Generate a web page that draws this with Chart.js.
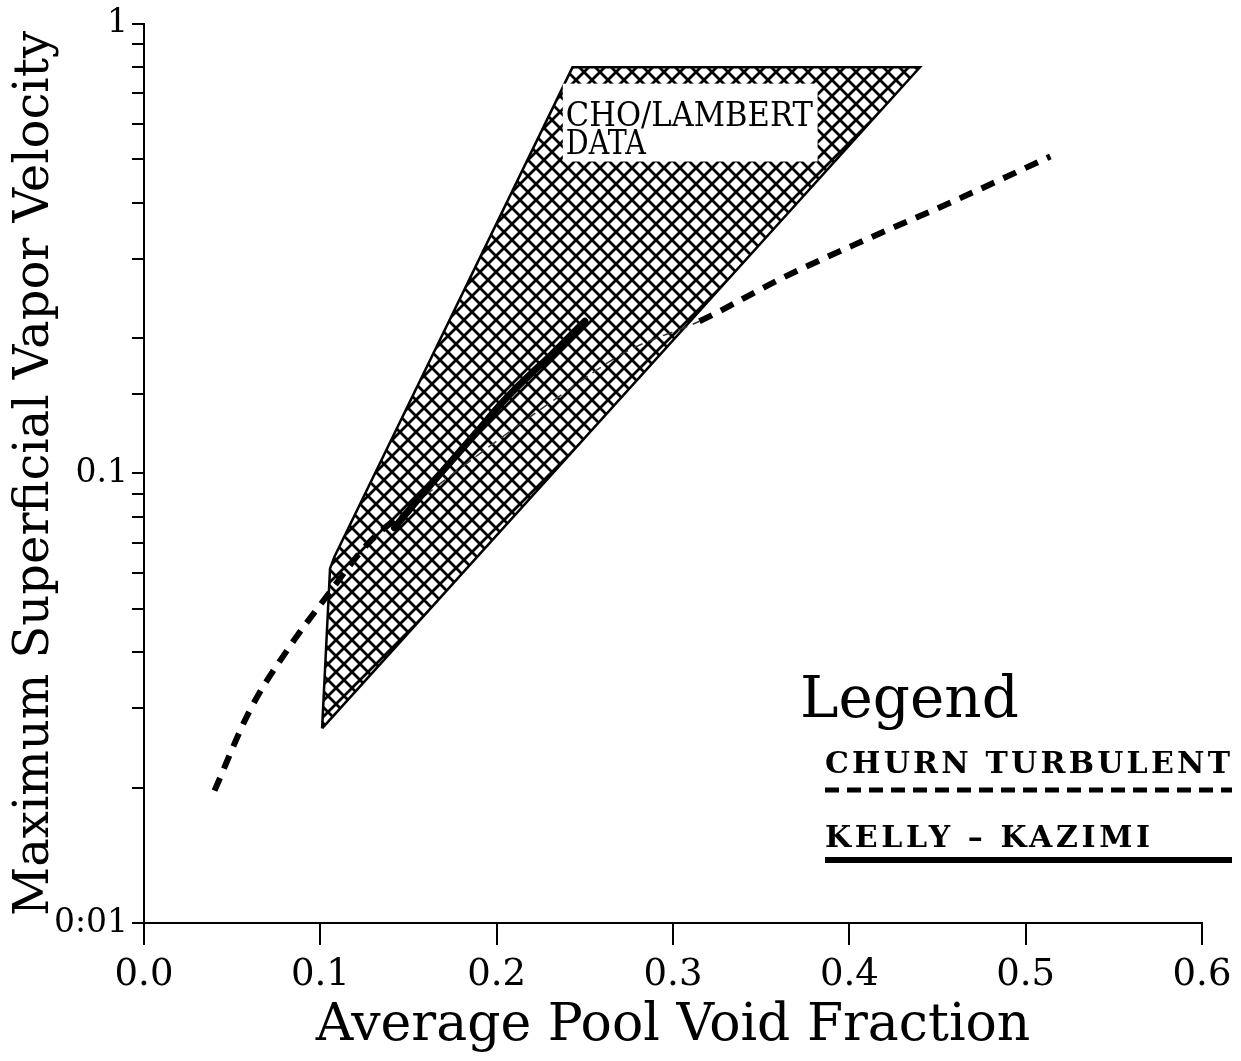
<!DOCTYPE html>
<html>
<head>
<meta charset="utf-8">
<title>Maximum Superficial Vapor Velocity vs Average Pool Void Fraction</title>
<script src="https://cdn.jsdelivr.net/npm/chart.js@4.4.1/dist/chart.umd.min.js"></script>
<style>
  html, body { margin: 0; padding: 0; background: #fff; }
  #chart { display: block; }
</style>
</head>
<body>
<canvas id="chart" width="1241" height="1061"></canvas>
<script>
// churn turbulent correlation (dashed curve)
const churnVoid = [0.040, 0.060, 0.083, 0.103, 0.127, 0.145, 0.170, 0.200, 0.234, 0.274, 0.315, 0.362, 0.410, 0.459, 0.514];
const churnVel  = [0.0197, 0.0297, 0.0414, 0.0529, 0.0698, 0.0805, 0.0962, 0.118, 0.147, 0.187, 0.218, 0.272, 0.332, 0.403, 0.507];
// where the dashed curve runs through the hatched data it is printed thin
const churnThinFrom = 0.145;
const churnThinTo = 0.315;

// Kelly - Kazimi (solid curve)
const kellyVoid = [0.142, 0.158, 0.172, 0.189, 0.204, 0.219, 0.230, 0.250];
const kellyVel  = [0.0757, 0.090, 0.104, 0.124, 0.145, 0.166, 0.182, 0.218];

// Cho/Lambert data envelope (hatched polygon, closed)
const choVoid = [0.101, 0.1055, 0.108, 0.243, 0.440, 0.101];
const choVel  = [0.0271, 0.0614, 0.0653, 0.80, 0.80, 0.0271];
// white label box cut out of the envelope: [void left, void right, vel top, vel bottom]
const choBox = [0.2375, 0.382, 0.736, 0.494];
const choLabel = ["CHO/LAMBERT", "DATA"];

// axes
const xTickLabels = ["0.0", "0.1", "0.2", "0.3", "0.4", "0.5", "0.6"];
const yTickValues = [0.01, 0.1, 1];
const yTickLabels = ["0:01", "0.1", "1"];

const legendTitle = "Legend";
const legendNames = ["CHURN TURBULENT", "KELLY \u2013 KAZIMI"];

const pts = (xs, ys) => xs.map((v, i) => ({ x: v, y: ys[i] }));

function makeHatch(ctx) {
  const s = 16;
  const c = document.createElement("canvas");
  c.width = s; c.height = s;
  const g = c.getContext("2d");
  g.fillStyle = "#fff";
  g.fillRect(0, 0, s, s);
  g.strokeStyle = "#000";
  g.lineWidth = 2.8;
  g.beginPath();
  for (let k = -1; k <= 1; k++) {
    g.moveTo(k * s, 0); g.lineTo(k * s + s, s);
    g.moveTo(k * s, s); g.lineTo(k * s + s, 0);
  }
  g.stroke();
  return ctx.createPattern(c, "repeat");
}

// make a line of text fill a given width: wider spacing if short, squeeze if long
function fitText(ctx, text, left, baseline, width) {
  ctx.save();
  ctx.letterSpacing = "0px";
  const w = ctx.measureText(text).width;
  ctx.translate(left, baseline);
  if (w > width) {
    ctx.scale(width / w, 1);
  } else if (text.length > 1) {
    ctx.letterSpacing = ((width - w) / (text.length - 1)) + "px";
  }
  ctx.fillText(text, 0, 0);
  ctx.restore();
}

const labels = {
  id: "labels",
  afterDatasetsDraw(chart) {
    const { ctx, scales: { x, y } } = chart;
    ctx.save();

    // label box inside the hatched area
    const bx0 = x.getPixelForValue(choBox[0]);
    const bx1 = x.getPixelForValue(choBox[1]);
    const by0 = y.getPixelForValue(choBox[2]);
    const by1 = y.getPixelForValue(choBox[3]);
    ctx.fillStyle = "#fff";
    ctx.fillRect(bx0, by0, bx1 - bx0, by1 - by0);
    ctx.fillStyle = "#000";
    ctx.textBaseline = "alphabetic";
    ctx.textAlign = "left";
    ctx.font = "34px 'DejaVu Serif'";
    fitText(ctx, choLabel[0], bx0 + 3, by0 + 42, 247);
    fitText(ctx, choLabel[1], bx0 + 3, by0 + 70, 80);

    // legend
    ctx.font = "58px 'DejaVu Serif'";
    ctx.fillText(legendTitle, 800, 717);
    ctx.font = "bold 30px 'DejaVu Serif'";
    fitText(ctx, legendNames[0], 825, 773, 405);
    fitText(ctx, legendNames[1], 825, 847, 325);

    ctx.strokeStyle = "#000";
    ctx.lineWidth = 5;
    ctx.setLineDash([14, 8]);
    ctx.beginPath();
    ctx.moveTo(825, 790); ctx.lineTo(1232, 790);
    ctx.stroke();
    ctx.setLineDash([]);
    ctx.lineWidth = 6;
    ctx.beginPath();
    ctx.moveTo(825, 860); ctx.lineTo(1232, 860);
    ctx.stroke();
    ctx.restore();
  }
};

const canvas = document.getElementById("chart");
const ctx = canvas.getContext("2d");
Chart.defaults.font.family = "'DejaVu Serif'";
Chart.defaults.color = "#000";

const isThin = (c) => c.p0.parsed.x >= churnThinFrom - 1e-9 && c.p1.parsed.x <= churnThinTo + 1e-9;

new Chart(ctx, {
  type: "line",
  data: {
    datasets: [
      {
        label: "Cho/Lambert data",
        data: pts(choVoid, choVel),
        borderColor: "#000",
        borderWidth: 2.5,
        backgroundColor: makeHatch(ctx),
        fill: "shape",
        pointRadius: 0,
        tension: 0,
        order: 3
      },
      {
        label: "Churn turbulent",
        data: pts(churnVoid, churnVel),
        borderColor: "#000",
        borderWidth: 6,
        borderDash: [14, 10],
        borderCapStyle: "butt",
        pointRadius: 0,
        cubicInterpolationMode: "monotone",
        fill: false,
        order: 1,
        segment: {
          borderWidth: (c) => (isThin(c) ? 1.5 : 6),
          borderDash: (c) => (isThin(c) ? [10, 6] : [14, 10]),
          borderColor: (c) => (isThin(c) ? "#333" : "#000")
        }
      },
      {
        label: "Kelly - Kazimi",
        data: pts(kellyVoid, kellyVel),
        borderColor: "#000",
        borderWidth: 7,
        borderCapStyle: "round",
        borderJoinStyle: "round",
        pointRadius: 0,
        tension: 0.4,
        fill: false,
        order: 0
      }
    ]
  },
  options: {
    responsive: false,
    animation: false,
    layout: { padding: { top: 22, right: 39, left: 0, bottom: 0 } },
    plugins: {
      legend: { display: false },
      tooltip: { enabled: false }
    },
    scales: {
      x: {
        type: "linear",
        min: 0,
        max: 0.6,
        ticks: {
          stepSize: 0.1,
          padding: 8,
          font: { size: 37 },
          callback: (v) => xTickLabels[Math.round(v * 10)]
        },
        grid: { drawOnChartArea: false, drawTicks: true, tickLength: 22, color: "#000", lineWidth: 2 },
        border: { display: true, color: "#000", width: 2 },
        title: {
          display: true,
          text: "Average Pool Void Fraction",
          font: { size: 52 },
          padding: { top: 0, bottom: 3 }
        },
        afterFit: (s) => { s.height = 138; }
      },
      y: {
        type: "logarithmic",
        min: 0.01,
        max: 1,
        ticks: {
          autoSkip: false,
          padding: 4,
          font: { size: 33 },
          callback: (v) => {
            const i = yTickValues.findIndex((t) => Math.abs(v - t) < t * 1e-6);
            return i >= 0 ? yTickLabels[i] : "";
          }
        },
        grid: { drawOnChartArea: false, drawTicks: true, tickLength: 12, color: "#000", lineWidth: 2 },
        border: { display: true, color: "#000", width: 2 },
        title: {
          display: true,
          text: "Maximum Superficial Vapor Velocity",
          font: { size: 48 },
          padding: { top: 7, bottom: 0 }
        },
        afterFit: (s) => { s.width = 144; }
      }
    }
  },
  plugins: [labels]
});
</script>
</body>
</html>
